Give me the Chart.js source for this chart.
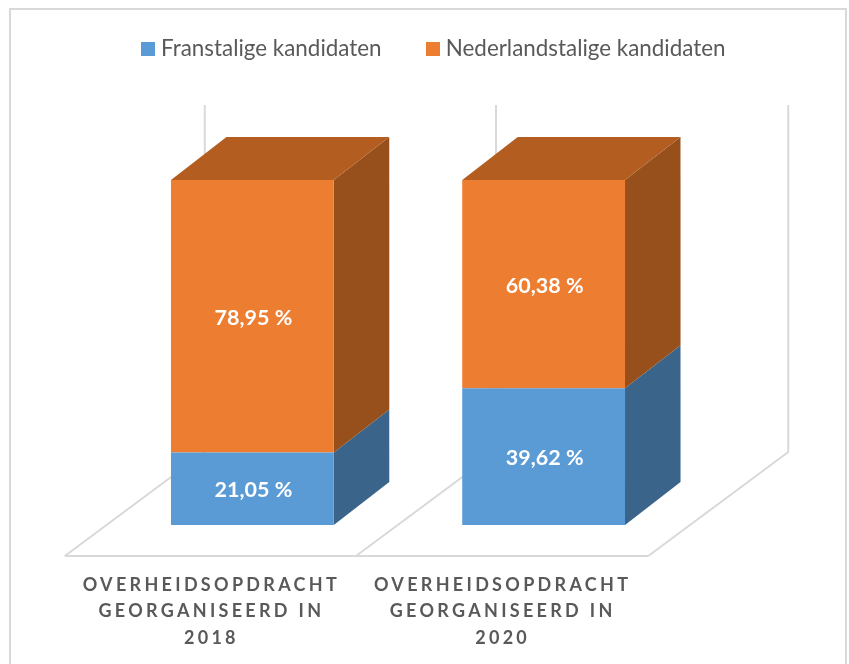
<!DOCTYPE html>
<html>
<head>
<meta charset="utf-8">
<title>Kandidaten</title>
<script src="https://cdn.jsdelivr.net/npm/chart.js@4"></script>
<style>
  html, body { margin: 0; padding: 0; background: #fff; overflow: hidden; }
  canvas { display: block; }
</style>
</head>
<body>
<canvas id="chart" width="849" height="664"></canvas>
<script>
const categories = [
    ['OVERHEIDSOPDRACHT', 'GEORGANISEERD IN', '2018'],
    ['OVERHEIDSOPDRACHT', 'GEORGANISEERD IN', '2020']
];
const franstalig = [21.05, 39.62];
const nederlandstalig = [78.95, 60.38];
const seriesNames = ['Franstalige kandidaten', 'Nederlandstalige kandidaten'];

const frontColors = ['#5B9BD5', '#ED7D31'];
const sideColors = ['#3A6489', '#97501B'];
const topColor = '#B35E20';
const lineColor = '#D9D9D9';
const textColor = '#595959';
const fontName = 'Lato, "Open Sans", sans-serif';

// depth of the fake 3d bars
const depthX = 55.5;
const depthY = 43;

function swatch(color) {
    const c = document.createElement('canvas');
    c.width = 14;
    c.height = 14;
    const g = c.getContext('2d');
    g.fillStyle = color;
    g.fillRect(0, 0, 14, 14);
    return c;
}
const swatches = frontColors.map(swatch);

function poly(ctx, pts, fill) {
    ctx.beginPath();
    pts.forEach((p, i) => i ? ctx.lineTo(p[0], p[1]) : ctx.moveTo(p[0], p[1]));
    ctx.closePath();
    ctx.fillStyle = fill;
    ctx.fill();
}

function line(ctx, pts) {
    ctx.beginPath();
    pts.forEach((p, i) => i ? ctx.lineTo(p[0], p[1]) : ctx.moveTo(p[0], p[1]));
    ctx.stroke();
}

const scenePlugin = {
    id: 'scene',
    beforeDatasetsDraw(chart) {
        const { ctx, chartArea, scales: { x, y } } = chart;
        const step = x.getPixelForValue(1) - x.getPixelForValue(0);
        const base = y.getPixelForValue(0);

        // kader
        ctx.save();
        ctx.strokeStyle = lineColor;
        ctx.lineWidth = 2;
        ctx.strokeRect(10, 9, 836, 680);

        // vloer en wanden
        const frontY = base + 31;
        const backY = base - 73;
        const wallTop = y.getPixelForValue(100) - 75;
        const left = chartArea.left - 42;
        for (let i = 0; i <= categories.length; i++) {
            const fx = left + i * step + (i === categories.length ? 1 : 0);
            const bx = fx + 140;
            line(ctx, [[fx, frontY], [bx, backY], [bx, wallTop]]);
        }
        line(ctx, [[left, frontY], [left + categories.length * step + 1, frontY]]);
        ctx.restore();

        // zijkanten en bovenkant van de balken
        chart.data.datasets.forEach((ds, d) => {
            chart.getDatasetMeta(d).data.forEach(bar => {
                const r = bar.x + bar.width / 2;
                poly(ctx, [[r, bar.base], [r + depthX, bar.base - depthY], [r + depthX, bar.y - depthY], [r, bar.y]], sideColors[d]);
                if (d === chart.data.datasets.length - 1) {
                    const l = bar.x - bar.width / 2;
                    poly(ctx, [[l, bar.y], [l + depthX, bar.y - depthY], [r + depthX, bar.y - depthY], [r, bar.y]], topColor);
                }
            });
        });
    },
    afterDatasetsDraw(chart) {
        const { ctx } = chart;
        ctx.save();
        ctx.font = 'bold 21.5px ' + fontName;
        ctx.fillStyle = '#fff';
        ctx.textAlign = 'center';
        ctx.textBaseline = 'middle';
        chart.data.datasets.forEach((ds, d) => {
            chart.getDatasetMeta(d).data.forEach((bar, i) => {
                const txt = ds.data[i].toFixed(2).replace('.', ',') + ' %';
                ctx.fillText(txt, bar.x + 1, (bar.y + bar.base) / 2 + 1.5);
            });
        });
        ctx.restore();
        // the x labels are drawn after this hook
        ctx.letterSpacing = '3.3px';
    },
    afterDraw(chart) {
        chart.ctx.letterSpacing = '0px';
    }
};

new Chart(document.getElementById('chart'), {
    type: 'bar',
    data: {
        labels: categories,
        datasets: [
            { label: seriesNames[0], data: franstalig, backgroundColor: frontColors[0] },
            { label: seriesNames[1], data: nederlandstalig, backgroundColor: frontColors[1] }
        ]
    },
    plugins: [scenePlugin],
    options: {
        responsive: false,
        animation: false,
        events: [],
        layout: { padding: { top: -12, left: 23.4, right: 0, bottom: 0 } },
        datasets: { bar: { categoryPercentage: 1, barPercentage: 0.559, stack: 'a' } },
        plugins: {
            tooltip: { enabled: false },
            legend: {
                position: 'top',
                labels: {
                    usePointStyle: true,
                    pointStyleWidth: 3,
                    padding: 50,
                    color: textColor,
                    font: { family: fontName, size: 22.4, lineHeight: 1 },
                    generateLabels: chart => chart.data.datasets.map((ds, i) => ({
                        text: ds.label,
                        pointStyle: swatches[i],
                        fontColor: textColor,
                        fillStyle: ds.backgroundColor,
                        strokeStyle: 'transparent',
                        lineWidth: 0,
                        hidden: false,
                        datasetIndex: i
                    }))
                }
            }
        },
        scales: {
            x: {
                stacked: true,
                grid: { display: false },
                border: { display: false },
                afterFit: s => { s.height = 139; },
                ticks: {
                    z: 1,
                    autoSkip: false,
                    maxRotation: 0,
                    minRotation: 0,
                    labelOffset: -41,
                    padding: 39,
                    color: textColor,
                    font: { family: fontName, size: 18, weight: 'bold', lineHeight: 1.46 }
                }
            },
            y: {
                stacked: true,
                min: 0,
                max: 131.77,
                grid: { display: false },
                border: { display: false },
                ticks: { display: false },
                afterFit: s => { s.width = 83.35; }
            },
            yRight: {
                position: 'right',
                grid: { display: false },
                border: { display: false },
                ticks: { display: false },
                afterFit: s => { s.width = 159.75; }
            }
        }
    }
});
</script>
</body>
</html>
